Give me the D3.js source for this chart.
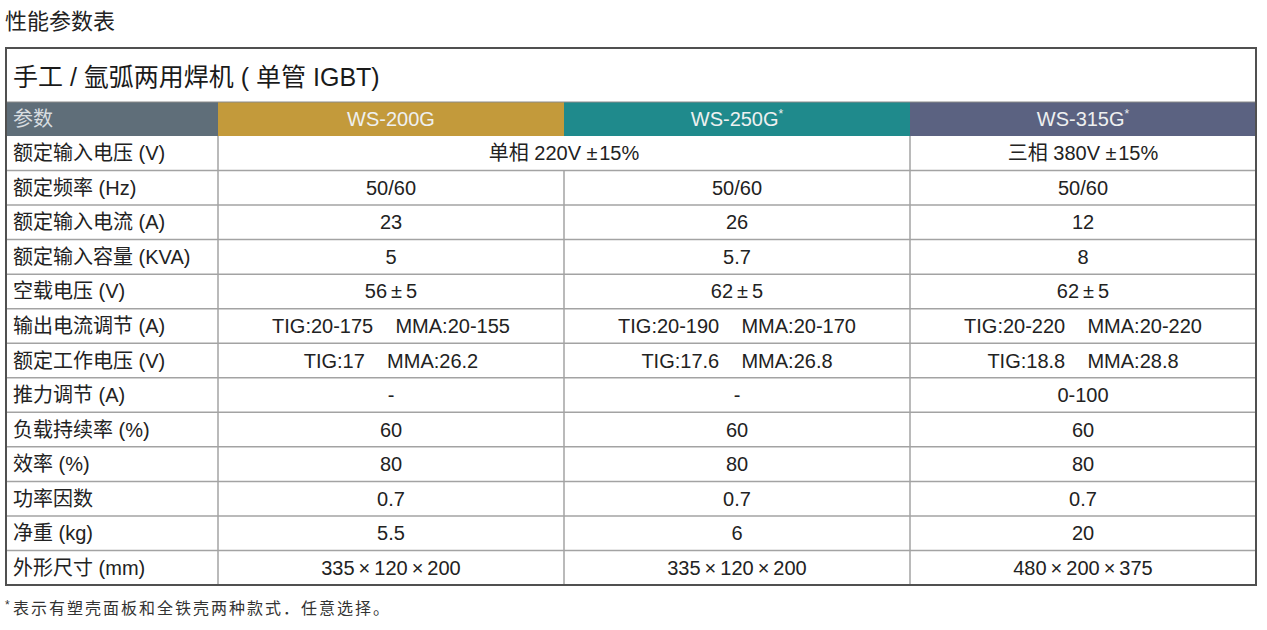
<!DOCTYPE html>
<html>
<head>
<meta charset="utf-8">
<script src="https://cdn.jsdelivr.net/npm/d3@7"></script>
<style>
  body { margin: 0; background: #fff; }
  svg text { font-family: "Liberation Sans", Arial, "Noto Sans CJK SC", sans-serif; }
</style>
</head>
<body>
<svg id="chart" width="1267" height="630"></svg>
<script>
(function() {
  // table content
  const pageTitle = "性能参数表";
  const tableTitle = "手工 / 氩弧两用焊机 ( 单管 IGBT)";
  const paramHeader = "参数";
  const models = ["WS-200G", "WS-250G", "WS-315G"];
  const modelStar = [false, true, true];
  const modelColors = ["#c39a3b", "#1f8a8c", "#5b6281"];
  const rowLabels = ["额定输入电压 (V)", "额定频率 (Hz)", "额定输入电流 (A)", "额定输入容量 (KVA)",
                     "空载电压 (V)", "输出电流调节 (A)", "额定工作电压 (V)", "推力调节 (A)",
                     "负载持续率 (%)", "效率 (%)", "功率因数", "净重 (kg)", "外形尺寸 (mm)"];
  // null = merged with the cell on its left
  const ws200 = ["单相 220V ±\u200a15%", "50/60", "23", "5", "56\u2009±\u20095", "TIG:20-175    MMA:20-155",
                 "TIG:17    MMA:26.2", "-", "60", "80", "0.7", "5.5", "335\u2009×\u2009120\u2009×\u2009200"];
  const ws250 = [null, "50/60", "26", "5.7", "62\u2009±\u20095", "TIG:20-190    MMA:20-170",
                 "TIG:17.6    MMA:26.8", "-", "60", "80", "0.7", "6", "335\u2009×\u2009120\u2009×\u2009200"];
  const ws315 = ["三相 380V ±\u200a15%", "50/60", "12", "8", "62\u2009±\u20095", "TIG:20-220    MMA:20-220",
                 "TIG:18.8    MMA:28.8", "0-100", "60", "80", "0.7", "20", "480\u2009×\u2009200\u2009×\u2009375"];
  const footnote = "表示有塑壳面板和全铁壳两种款式．任意选择。";

  const series = [ws200, ws250, ws315];

  const left = 6, right = 1256;
  const labelW = 212;
  const titleTop = 48, headTop = 102, headH = 34, bodyTop = 136, bodyBottom = 585;
  const fontSize = 20;

  const svg = d3.select('#chart');

  const colX = d3.scaleBand()
                 .domain(models)
                 .range([left + labelW, right]);
  const rowY = d3.scaleBand()
                 .domain(rowLabels)
                 .range([bodyTop, bodyBottom]);

  svg.append('text')
     .attr('x', 5).attr('y', 21)
     .attr('dominant-baseline', 'central')
     .attr('font-size', 22).attr('fill', '#222')
     .text(pageTitle);

  svg.append('text')
     .attr('x', 13).attr('y', (titleTop + headTop) / 2 + 2)
     .attr('dominant-baseline', 'central')
     .attr('font-size', 25).attr('fill', '#1a1a1a')
     .text(tableTitle);

  // header
  svg.append('rect')
     .attr('x', left).attr('y', headTop)
     .attr('width', labelW).attr('height', headH)
     .attr('fill', '#5f6e79');
  svg.append('text')
     .attr('x', 13).attr('y', headTop + headH / 2)
     .attr('dominant-baseline', 'central')
     .attr('font-size', fontSize).attr('fill', '#d8dde0')
     .text(paramHeader);

  const head = svg.selectAll('g.head')
                  .data(models)
                  .enter()
                  .append('g')
                  .attr('class', 'head');
  head.append('rect')
      .attr('x', d => colX(d))
      .attr('y', headTop)
      .attr('width', colX.bandwidth())
      .attr('height', headH)
      .attr('fill', (d, i) => modelColors[i]);
  const headText = head.append('text')
      .attr('x', d => colX(d) + colX.bandwidth() / 2)
      .attr('y', headTop + headH / 2)
      .attr('text-anchor', 'middle')
      .attr('dominant-baseline', 'central')
      .attr('font-size', fontSize)
      .attr('fill', '#eef0f0');
  headText.append('tspan').text(d => d);
  headText.filter((d, i) => modelStar[i])
      .append('tspan')
      .attr('font-size', 12)
      .attr('dy', -5)
      .text('*');

  // grid lines
  const gridColor = '#a3a3a3';
  svg.selectAll('line.hrow')
     .data(rowLabels.slice(1))
     .enter()
     .append('line')
     .attr('class', 'hrow')
     .attr('x1', left).attr('x2', right)
     .attr('y1', d => rowY(d)).attr('y2', d => rowY(d))
     .attr('stroke', gridColor).attr('stroke-width', 1.5);

  svg.append('line')
     .attr('x1', left + labelW).attr('x2', left + labelW)
     .attr('y1', bodyTop).attr('y2', bodyBottom)
     .attr('stroke', gridColor).attr('stroke-width', 1.5);

  svg.selectAll('line.vcol')
     .data(models.slice(1))
     .enter()
     .append('line')
     .attr('class', 'vcol')
     .attr('x1', d => colX(d)).attr('x2', d => colX(d))
     .attr('y1', (d, i) => series[i + 1][0] === null ? rowY(rowLabels[1]) : bodyTop)
     .attr('y2', bodyBottom)
     .attr('stroke', gridColor).attr('stroke-width', 1.5);

  svg.append('line')
     .attr('x1', left).attr('x2', right)
     .attr('y1', headTop).attr('y2', headTop)
     .attr('stroke', '#8a8a8a').attr('stroke-width', 1);

  // row labels
  svg.selectAll('text.label')
     .data(rowLabels)
     .enter()
     .append('text')
     .attr('class', 'label')
     .attr('x', 13)
     .attr('y', d => rowY(d) + rowY.bandwidth() / 2)
     .attr('dominant-baseline', 'central')
     .attr('font-size', fontSize)
     .attr('fill', '#222')
     .text(d => d);

  // cells
  const cells = [];
  series.forEach((vals, ci) => {
    vals.forEach((v, ri) => {
      if (v === null) return;
      let span = 1;
      while (ci + span < series.length && series[ci + span][ri] === null) span += 1;
      cells.push({ v, ci, ri, span });
    });
  });

  svg.selectAll('text.cell')
     .data(cells)
     .enter()
     .append('text')
     .attr('class', 'cell')
     .attr('x', d => colX(models[d.ci]) + colX.bandwidth() * d.span / 2)
     .attr('y', d => rowY(rowLabels[d.ri]) + rowY.bandwidth() / 2)
     .attr('text-anchor', 'middle')
     .attr('dominant-baseline', 'central')
     .attr('font-size', fontSize)
     .attr('fill', '#222')
     .attr('xml:space', 'preserve')
     .style('white-space', 'pre')
     .text(d => d.v);

  // outer frame
  svg.append('rect')
     .attr('x', left).attr('y', titleTop)
     .attr('width', right - left).attr('height', bodyBottom - titleTop)
     .attr('fill', 'none')
     .attr('stroke', '#505050').attr('stroke-width', 2);

  const fn = svg.append('text')
     .attr('x', 5).attr('y', 608)
     .attr('dominant-baseline', 'central')
     .attr('font-size', 16).attr('fill', '#333');
  fn.append('tspan').attr('font-size', 12).attr('dy', -3).text('* ');
  fn.append('tspan').attr('dy', 3).attr('letter-spacing', 2).text(footnote);
})();
</script>
</body>
</html>
